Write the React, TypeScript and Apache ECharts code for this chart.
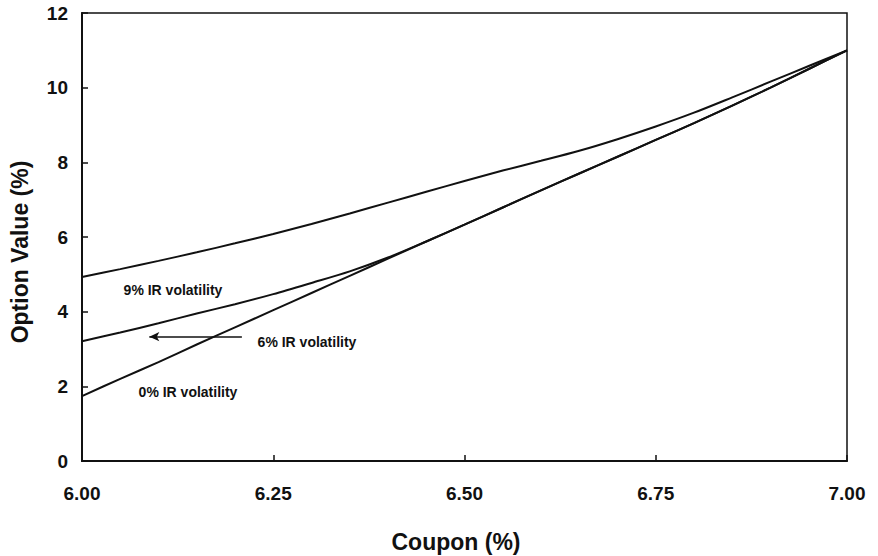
import React, { useEffect, useRef } from "react";
import * as echarts from "echarts";

const COUPONS = [6.0, 6.05, 6.1, 6.15, 6.2, 6.25, 6.3, 6.35, 6.4, 6.45, 6.5, 6.55, 6.6, 6.65, 6.7, 6.75, 6.8, 6.85, 6.9, 6.95, 7.0];
const VOL9 = [4.93, 5.14, 5.36, 5.59, 5.83, 6.08, 6.35, 6.63, 6.92, 7.21, 7.5, 7.78, 8.04, 8.31, 8.62, 8.96, 9.33, 9.74, 10.16, 10.58, 11.0];
const VOL6 = [3.21, 3.44, 3.69, 3.95, 4.2, 4.47, 4.77, 5.08, 5.45, 5.88, 6.33, 6.79, 7.25, 7.7, 8.15, 8.6, 9.05, 9.52, 10.0, 10.5, 11.0];
const VOL0 = [1.74, 2.2, 2.65, 3.12, 3.58, 4.04, 4.5, 4.96, 5.42, 5.88, 6.33, 6.79, 7.25, 7.7, 8.15, 8.6, 9.05, 9.52, 10.0, 10.5, 11.0];

const X_MIN = 6.0;
const X_MAX = 7.0;
const X_STEP = 0.25;
const Y_MIN = 0;
const Y_MAX = 12;
const Y_STEP = 2;

const SERIES_NAMES = ["9% IR volatility", "6% IR volatility", "0% IR volatility"];
const ARROW_FROM: [number, number] = [6.209, 3.33];
const ARROW_TO: [number, number] = [6.088, 3.33];

const FONT = "'Liberation Sans', Arial, Helvetica, sans-serif";

export default function App() {
  const ref = useRef<HTMLDivElement>(null);
  useEffect(() => {
    if (!ref.current) return;
    const chart = echarts.init(ref.current, undefined, { renderer: "svg" });
    const pairs = (ys: number[]) => COUPONS.map((c, i) => [c, ys[i]]);
    const lineStyle = { color: "#111", width: 2 };
    const mkSeries = (name: string, ys: number[], extra: any = {}) => ({
      type: "line",
      name,
      data: pairs(ys),
      showSymbol: false,
      symbol: "none",
      smooth: 0.3,
      lineStyle,
      silent: true,
      ...extra,
    });
    chart.setOption({
      animation: false,
      backgroundColor: "#fff",
      grid: {
        left: 82,
        right: 31,
        top: 13,
        bottom: 95,
        show: true,
        borderColor: "#111",
        borderWidth: 1.5,
        backgroundColor: "transparent",
      },
      xAxis: {
        type: "value",
        min: X_MIN,
        max: X_MAX,
        interval: X_STEP,
        axisLine: { show: true, lineStyle: { color: "#111", width: 2 } },
        axisTick: { show: true, inside: true, length: 6, lineStyle: { color: "#111", width: 1.5 } },
        splitLine: { show: false },
        axisLabel: {
          color: "#111",
          fontFamily: FONT,
          fontWeight: "bold",
          fontSize: 19,
          margin: 23,
          formatter: (v: number) => v.toFixed(2),
        },
      },
      yAxis: {
        type: "value",
        min: Y_MIN,
        max: Y_MAX,
        interval: Y_STEP,
        axisLine: { show: true, lineStyle: { color: "#111", width: 2 } },
        axisTick: { show: true, inside: true, length: 6, lineStyle: { color: "#111", width: 1.5 } },
        splitLine: { show: false },
        axisLabel: {
          color: "#111",
          fontFamily: FONT,
          fontWeight: "bold",
          fontSize: 19,
          margin: 14,
        },
      },
      series: [
        mkSeries(SERIES_NAMES[0], VOL9),
        mkSeries(SERIES_NAMES[1], VOL6, {
          markLine: {
            silent: true,
            symbol: ["none", "arrow"],
            symbolSize: [7, 10],
            label: { show: false },
            lineStyle: { color: "#111", width: 1.5, type: "solid" },
            data: [[{ coord: ARROW_FROM }, { coord: ARROW_TO }]],
          },
        }),
        mkSeries(SERIES_NAMES[2], VOL0),
      ],
      graphic: [
        {
          type: "text",
          x: 173,
          y: 290,
          style: {
            text: SERIES_NAMES[0],
            fill: "#111",
            font: `bold 14px ${FONT}`,
            textAlign: "center",
            textVerticalAlign: "middle",
          },
        },
        {
          type: "text",
          x: 307,
          y: 342,
          style: {
            text: SERIES_NAMES[1],
            fill: "#111",
            font: `bold 14px ${FONT}`,
            textAlign: "center",
            textVerticalAlign: "middle",
          },
        },
        {
          type: "text",
          x: 188,
          y: 392,
          style: {
            text: SERIES_NAMES[2],
            fill: "#111",
            font: `bold 14px ${FONT}`,
            textAlign: "center",
            textVerticalAlign: "middle",
          },
        },
        {
          type: "text",
          x: 456,
          y: 542,
          style: {
            text: "Coupon (%)",
            fill: "#111",
            font: `bold 23px ${FONT}`,
            textAlign: "center",
            textVerticalAlign: "middle",
          },
        },
        {
          type: "text",
          x: 20,
          y: 252,
          rotation: Math.PI / 2,
          style: {
            text: "Option Value (%)",
            fill: "#111",
            font: `bold 23px ${FONT}`,
            textAlign: "center",
            textVerticalAlign: "middle",
          },
        },
      ],
    });
    return () => chart.dispose();
  }, []);
  return (
    <div
      ref={ref}
      style={{ position: "fixed", left: 0, top: 0, width: 878, height: 556, background: "#fff" }}
    />
  );
}
